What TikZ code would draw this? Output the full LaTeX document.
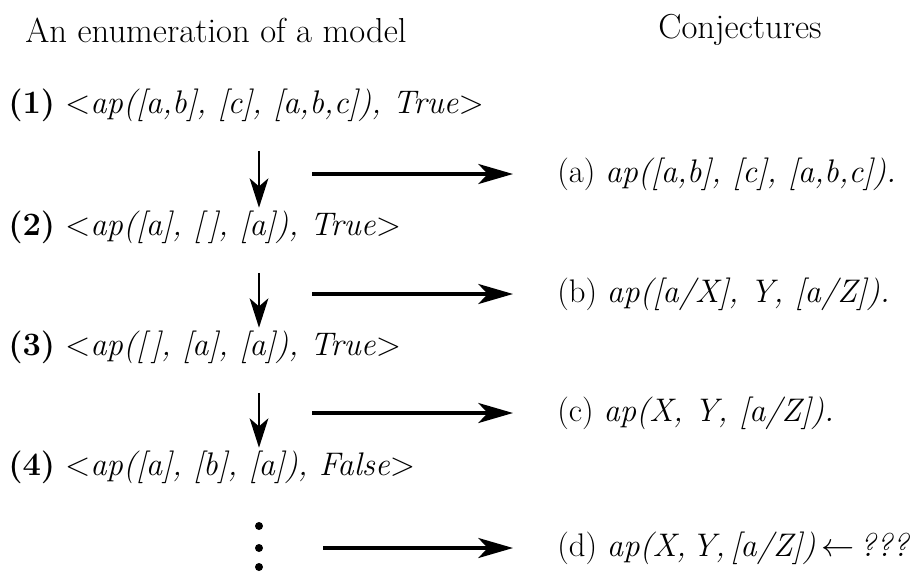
\documentclass[tikz,border=0pt]{standalone}
\usetikzlibrary{arrows.meta,positioning,calc}
\begin{document}
\begin{tikzpicture}[
  x=0.75pt,y=-0.75pt,
  font=\fontsize{24.5}{28}\selectfont,
  row/.style={anchor=west,inner sep=0pt},
  conj/.style={anchor=west,inner sep=0pt},
  head/.style={inner sep=0pt,font=\fontsize{26}{30}\selectfont},
  dot/.style={circle,fill,inner sep=0pt,minimum size=6pt},
  hop/.style={-{Stealth[length=26pt,width=15pt,inset=7pt]},line width=2.6pt},
  down/.style={-{Stealth[length=22pt,width=14pt,inset=6pt]},line width=2pt}
]
\useasboundingbox (0,0) rectangle (922,572);
\node[head] (left) at (216,30) {An enumeration of a model};
\node[head] (right) at (740,30) {Conjectures};
\node[row] (r1) at (8,105) {\textbf{(1)}\ $<$\textit{ap([a,b], [c], [a,b,c]), True}$>$};
\node[row] (r2) at (8,227) {\textbf{(2)}\ $<$\textit{ap([a], [\,], [a]), True}$>$};
\node[row] (r3) at (8,347) {\textbf{(3)}\ $<$\textit{ap([\,], [a], [a]), True}$>$};
\node[row] (r4) at (8,467) {\textbf{(4)}\ $<$\textit{ap([a], [b], [a]), False}$>$};
\node[conj] (ca) at (557,174) {(a)\ \textit{ap([a,b], [c], [a,b,c]).}};
\node[conj] (cb) at (557,294) {(b)\ \textit{ap([a/X], Y, [a/Z]).}};
\node[conj] (cc) at (557,413) {(c)\ \textit{ap(X, Y, [a/Z]).}};
\node[conj] (cd) at (557,548) {(d)\ \textit{ap(X,\,Y,\,[a/Z])}\,$\leftarrow$\,\textit{???}};
\coordinate (axis) at (259,0);
\foreach \i/\j in {1/2,2/3,3/4}
  \draw[down,shorten <=22pt,shorten >=2pt] (r\i.south -| axis) -- (r\j.north -| axis);
\foreach \k/\y in {1/526,2/548,3/567}
  \node[dot] (dot\k) at (259,\y) {};
\foreach \c/\x in {a/312,b/312,c/312,d/323}
  \draw[hop,shorten >=33pt] (c\c.west -| \x,0) -- (c\c.west);
\end{tikzpicture}
\end{document}
